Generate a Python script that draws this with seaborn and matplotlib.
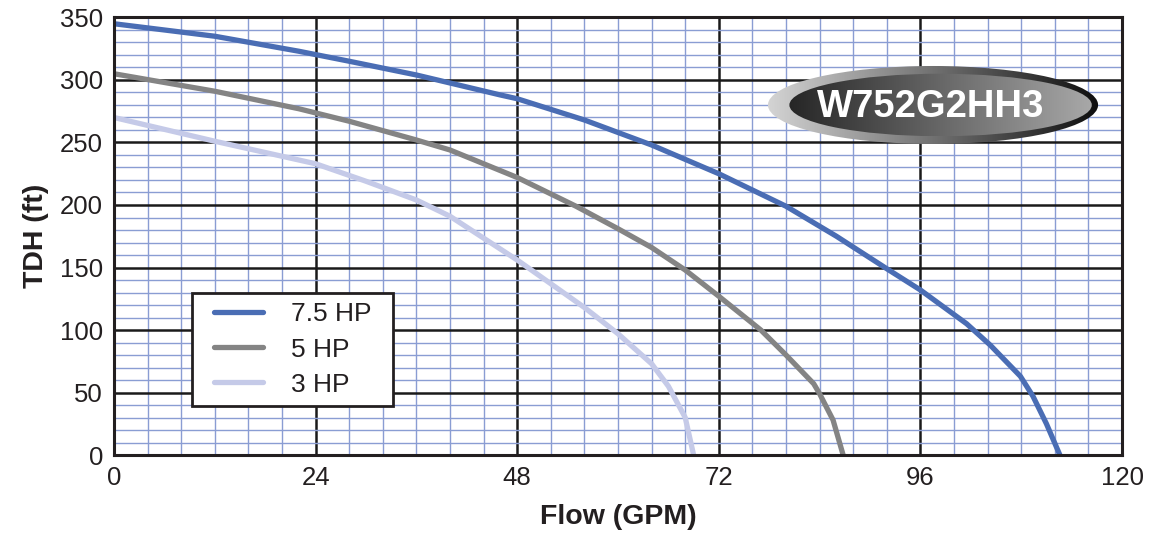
import numpy as np
import pandas as pd
import matplotlib
matplotlib.use("Agg")
import matplotlib.pyplot as plt
from matplotlib.patches import Ellipse, Rectangle
from matplotlib.colors import LinearSegmentedColormap
import seaborn as sns

# ---------------------------------------------------------
# data (flow in GPM, head in ft)
# ---------------------------------------------------------
flow_75 = [0, 12, 22, 28, 36, 46, 48, 56, 64, 72, 80, 86, 92, 96, 101.5, 104.3, 107.9, 109.4, 111, 112.6]
head_75 = [345, 335, 323, 315, 304, 288, 285, 268, 248, 225, 199, 175, 149, 132, 105, 88, 63, 47, 25, 0]

flow_5 = [0, 12, 22, 28, 36, 40, 48, 55, 60, 64, 68, 72, 77, 80, 83.3, 84, 85.6, 86.8]
head_5 = [305, 291, 277, 267, 252, 244, 222, 199, 181, 166, 148, 127, 100, 80, 57, 49, 28, 0]

flow_3 = [0, 12, 20, 24, 30, 36, 40, 48, 52, 56, 60, 64, 66, 68, 69]
head_3 = [270, 251, 239, 233, 219, 204, 191, 156, 137, 118, 97, 73, 55, 30, 0]

series_names = ["7.5 HP", "5 HP", "3 HP"]
series_colors = ["#4a6db4", "#848484", "#c5cae8"]

x_ticks = [0, 24, 48, 72, 96, 120]
y_ticks = [0, 50, 100, 150, 200, 250, 300, 350]
model_name = "W752G2HH3"

df = pd.concat([
    pd.DataFrame({"flow": flow_75, "head": head_75, "pump": series_names[0]}),
    pd.DataFrame({"flow": flow_5, "head": head_5, "pump": series_names[1]}),
    pd.DataFrame({"flow": flow_3, "head": head_3, "pump": series_names[2]}),
])

sns.set_theme(style="white")
plt.rcParams["font.family"] = ["Liberation Sans", "DejaVu Sans"]

fig = plt.figure(figsize=(11.62, 5.33), dpi=100)
ax = fig.add_axes([0.0981, 0.1463, 0.8675, 0.8209])

sns.lineplot(
    data=df, x="flow", y="head", hue="pump",
    palette=dict(zip(series_names, series_colors)),
    sort=False, estimator=None, linewidth=3.8, ax=ax, zorder=5,
)
for ln in ax.get_lines():
    ln.set_solid_joinstyle("round")

ax.set_xlim(0, 120)
ax.set_ylim(0, 350)
ax.set_xticks(x_ticks)
ax.set_yticks(y_ticks)
ax.set_xticks(np.arange(0, 121, 4), minor=True)
ax.set_yticks(np.arange(0, 351, 10), minor=True)
ax.grid(which="minor", color="#8a9dd3", linewidth=1.0, zorder=1)
ax.grid(which="major", color="#1a1a1a", linewidth=1.8, zorder=2)
ax.set_axisbelow(True)
ax.tick_params(which="both", length=0, labelsize=18.5, colors="#231f20", pad=8)

for sp in ax.spines.values():
    sp.set_color("#231f20")
    sp.set_linewidth(2.2)
    sp.set_zorder(6)

ax.set_xlabel("Flow (GPM)", fontsize=20.5, fontweight="bold", color="#231f20", labelpad=10)
ax.set_ylabel("TDH (ft)", fontsize=20.5, fontweight="bold", color="#231f20", labelpad=8)

# legend box drawn separately so the padding matches
box = Rectangle((0.0774, 0.112), 0.1994, 0.258, transform=ax.transAxes,
                facecolor="white", edgecolor="#231f20", linewidth=2.0, zorder=7)
ax.add_patch(box)

leg = ax.legend(
    loc="center", bbox_to_anchor=(0.1771, 0.241), borderaxespad=0,
    fontsize=19, frameon=False, handlelength=1.85,
    handletextpad=1.05, labelspacing=0.42, borderpad=0,
)
leg.set_zorder(8)
for t in leg.get_texts():
    t.set_color("#231f20")
for h in leg.get_lines():
    h.set_linewidth(3.8)

# ---------------------------------------------------------
# model badge (gradient ellipses)
# ---------------------------------------------------------
def gradient_ellipse(cx, cy, w, h, c_left, c_right, z):
    ell = Ellipse((cx, cy), w, h, transform=ax.transData, facecolor="none",
                  edgecolor="none", zorder=z)
    ax.add_patch(ell)
    cmap = LinearSegmentedColormap.from_list("g", [c_left, c_right])
    grad = np.linspace(0, 1, 256).reshape(1, -1)
    im = ax.imshow(grad, cmap=cmap, aspect="auto",
                   extent=(cx - w / 2, cx + w / 2, cy - h / 2, cy + h / 2),
                   zorder=z, interpolation="bicubic")
    im.set_clip_path(ell)

gradient_ellipse(97.5, 280, 39.3, 62.4, "#d4d4d4", "#0e0e0e", 7)
gradient_ellipse(98.4, 280, 36.0, 50.0, "#262626", "#a8a8a8", 7.5)
ax.text(97.2, 278, model_name, fontsize=27.5, fontweight="bold", color="white",
        ha="center", va="center", zorder=9)
ax.set_xlim(0, 120)
ax.set_ylim(0, 350)

fig.savefig("out.png", dpi=100)
